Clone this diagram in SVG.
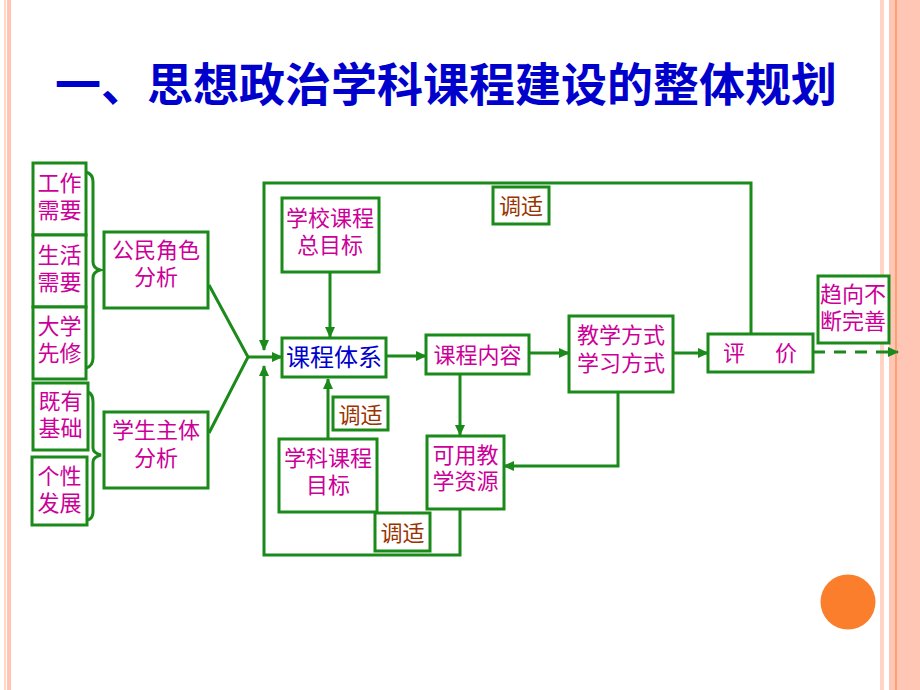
<svg xmlns="http://www.w3.org/2000/svg" width="920" height="690" viewBox="0 0 920 690">
<defs>
<style>
.box{fill:#fff;stroke:#1a8a1a;stroke-width:3}
.ln{fill:none;stroke:#1a8a1a;stroke-width:3}
.t{font-family:"Noto Sans CJK SC","Noto Sans CJK JP",sans-serif;font-size:22px;text-anchor:middle}
.m{fill:#cc0099}
.b{fill:#0000cc}
.r{fill:#993300}
</style>
<marker id="ah" markerUnits="userSpaceOnUse" markerWidth="11" markerHeight="10" refX="10" refY="5" orient="auto">
<path d="M0,0 L11,5 L0,10 z" fill="#1a8a1a"/>
</marker>
</defs>
<rect width="920" height="690" fill="#fff"/>
<!-- borders -->
<rect x="4" y="0" width="2" height="690" fill="#ffd8c0"/>
<rect x="7" y="0" width="4" height="690" fill="#ffc4b4"/>
<rect x="880" y="0" width="4" height="690" fill="#ffd4c4"/>
<rect x="889" y="0" width="31" height="690" fill="#ffc6b6"/>
<rect x="895" y="0" width="2" height="690" fill="#ffa070"/>
<circle cx="848" cy="602" r="27.5" fill="#fa7e2c"/>
<text x="446" y="101" style="font-family:'Noto Sans CJK SC','Noto Sans CJK JP',sans-serif;font-size:46px;font-weight:bold;text-anchor:middle" fill="#0000cc">一、思想政治学科课程建设的整体规划</text>

<g id="connectors">
<path class="ln" d="M86,172 Q93,174 93,182 L93,262 Q93,268 100,270 Q93,272 93,278 L93,358 Q93,366 86,368"/>
<path class="ln" d="M88,392 Q93,394 93,402 L93,448 Q93,453 101,455 Q93,457 93,462 L93,512 Q93,518 88,520"/>
<path class="ln" d="M209,285 L248,357 L209,433"/>
<path class="ln" d="M248,357 L282,357" marker-end="url(#ah)"/>
<path class="ln" d="M330,272 L330,337" marker-end="url(#ah)"/>
<path class="ln" d="M751,334 L751,183 L264,183 L264,350" marker-end="url(#ah)"/>
<path class="ln" d="M460,509 L460,555 L264,555 L264,366" marker-end="url(#ah)"/>
<path class="ln" d="M328,439 L328,379" marker-end="url(#ah)"/>
<path class="ln" d="M386,356 L426,356" marker-end="url(#ah)"/>
<path class="ln" d="M460,374 L460,435" marker-end="url(#ah)"/>
<path class="ln" d="M529,353 L569,353" marker-end="url(#ah)"/>
<path class="ln" d="M618,392 L618,466 L504,466" marker-end="url(#ah)"/>
<path class="ln" d="M673,353 L708,353" marker-end="url(#ah)"/>
<path class="ln" d="M813,352 L898,352" stroke-dasharray="12,9" marker-end="url(#ah)"/>
</g>

<g id="n-gongzuo"><rect class="box" x="33" y="163" width="53" height="72"/><text class="t m" x="59.5" y="191">工作</text><text class="t m" x="59.5" y="218">需要</text></g>
<g id="n-shenghuo"><rect class="box" x="33" y="235" width="53" height="72"/><text class="t m" x="59.5" y="263">生活</text><text class="t m" x="59.5" y="290">需要</text></g>
<g id="n-daxue"><rect class="box" x="33" y="307" width="53" height="72"/><text class="t m" x="59.5" y="334">大学</text><text class="t m" x="59.5" y="361">先修</text></g>
<g id="n-jiyou"><rect class="box" x="33" y="383" width="55" height="67"/><text class="t m" x="60.5" y="409">既有</text><text class="t m" x="60.5" y="436">基础</text></g>
<g id="n-gexing"><rect class="box" x="32" y="457" width="55" height="68"/><text class="t m" x="59.5" y="484">个性</text><text class="t m" x="59.5" y="511">发展</text></g>
<g id="n-gongmin"><rect class="box" x="104" y="232" width="104" height="76"/><text class="t m" x="156" y="258">公民角色</text><text class="t m" x="156" y="285">分析</text></g>
<g id="n-xuesheng"><rect class="box" x="104" y="412" width="104" height="76"/><text class="t m" x="156" y="438">学生主体</text><text class="t m" x="156" y="466">分析</text></g>
<g id="n-xuexiao"><rect class="box" x="282" y="198" width="97" height="74"/><text class="t m" x="330" y="226">学校课程</text><text class="t m" x="330" y="253">总目标</text></g>
<g id="n-tixi"><rect class="box" x="282" y="338" width="104" height="39"/><text class="t b" x="334" y="366" style="font-size:24px">课程体系</text></g>
<g id="n-neirong"><rect class="box" x="426" y="335" width="103" height="39"/><text class="t m" x="477.5" y="363">课程内容</text></g>
<g id="n-jiaoxue"><rect class="box" x="569" y="316" width="104" height="76"/><text class="t m" x="621" y="343">教学方式</text><text class="t m" x="621" y="371">学习方式</text></g>
<g id="n-pingjia"><rect class="box" x="708" y="334" width="105" height="38"/><text class="t m" x="734" y="361">评</text><text class="t m" x="786" y="361">价</text></g>
<g id="n-quxiang"><rect class="box" x="818" y="276" width="71" height="67"/><text class="t m" x="853" y="302">趋向不</text><text class="t m" x="853" y="329">断完善</text></g>
<g id="n-kexue"><rect class="box" x="279" y="439" width="98" height="73"/><text class="t m" x="328" y="466">学科课程</text><text class="t m" x="328" y="493">目标</text></g>
<g id="n-ziyuan"><rect class="box" x="427" y="436" width="77" height="73"/><text class="t m" x="465.5" y="463">可用教</text><text class="t m" x="465.5" y="489">学资源</text></g>
<g id="n-tiaoshi1"><rect class="box" x="493" y="187" width="56" height="37"/><text class="t r" x="521" y="214">调适</text></g>
<g id="n-tiaoshi2"><rect class="box" x="333" y="397" width="55" height="33"/><text class="t r" x="360.5" y="423">调适</text></g>
<g id="n-tiaoshi3"><rect class="box" x="375" y="513" width="55" height="38"/><text class="t r" x="402.5" y="541">调适</text></g>
</svg>
